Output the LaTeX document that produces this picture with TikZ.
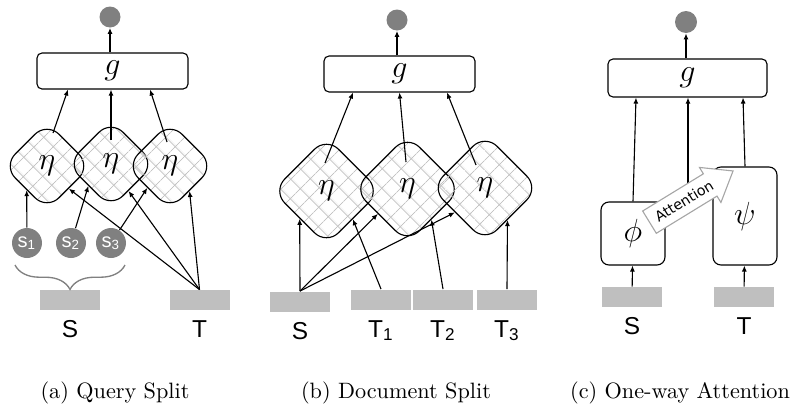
\documentclass[tikz,border=0pt]{standalone}
\usepackage{fontspec}
\setsansfont{Liberation Sans}
\newfontfamily\attfont{DejaVu Sans}
\usepackage{tikz}
\usetikzlibrary{shapes.geometric,shapes.arrows,patterns.meta,arrows.meta,positioning,calc,decorations.pathreplacing}
\newlength{\pxu}\setlength{\pxu}{0.45pt}
\definecolor{dotgray}{HTML}{808080}
\definecolor{bargray}{HTML}{BFBFBF}
\definecolor{hatchgray}{HTML}{C4C4C4}
\definecolor{attgray}{HTML}{A6A6A6}
\begin{document}
\begin{tikzpicture}[x=\pxu,y=-\pxu]
%coordinates are pixels of the picture, y going down
\tikzstyle{arr}=[-{Latex[length=2.7pt,width=2.25pt]}, line width=0.5pt]
\tikzstyle{gbox}=[draw, rounded corners=5\pxu, minimum width=151\pxu, minimum height=36\pxu, font=\Large, line width=0.5pt]
\tikzstyle{dot}=[circle, fill=dotgray, inner sep=0, minimum size=21\pxu]
\tikzstyle{eta}=[diamond, aspect=1, draw, rounded corners=17\pxu, inner sep=0, minimum size=88\pxu, pattern={Hatch[angle=45,distance=6.5pt,line width=0.45pt]}, pattern color=hatchgray, font=\Large, line width=0.5pt]
\tikzstyle{snode}=[circle, fill=dotgray, inner sep=0, minimum size=30\pxu, text=white, font=\sffamily\fontsize{9}{10}\selectfont]
\tikzstyle{bar}=[fill=bargray, inner sep=0, minimum width=60\pxu, minimum height=20\pxu]
\tikzstyle{lab}=[inner sep=0, font=\sffamily\fontsize{11}{13}\selectfont]
\tikzstyle{enc}=[draw, rounded corners=8\pxu, minimum width=64\pxu, font=\Large, line width=0.5pt]
\tikzstyle{att}=[single arrow, draw=attgray, fill=white, rotate=31.5, minimum height=98\pxu, single arrow head extend=7.5\pxu, single arrow tip angle=75, inner ysep=7\pxu, inner xsep=2pt, font=\attfont\fontsize{6.4}{7.5}\selectfont, line width=0.5pt]
\useasboundingbox (0,0) rectangle (796,416);
% (a) query split
\node[dot](O1) at (110,17) {};
\node[gbox](G1) at (112.5,71) {$g$};
\node[eta](A1) at (47,166) {$\eta$};
\node[eta](A2) at (111,164) {$\eta$};
\node[eta](A3) at (170,166) {$\eta$};
\node[snode](s1) at (27,243) {s\textsubscript{1}};
\node[snode](s2) at (71,243) {s\textsubscript{2}};
\node[snode](s3) at (111,243) {s\textsubscript{3}};
\node[bar](Sa) at (70,300) {};
\node[bar](Ta) at (199.5,300) {};
\node[lab](Sla) [below=10\pxu of Sa] {S};
\node[lab](Tla) [below=10\pxu of Ta] {T};
\draw[dotgray, line width=0.6pt, decorate, decoration={brace, amplitude=11pt}] (125,265) -- (15,265);
\draw[arr] (G1.north -| O1) -- (O1);
\draw[arr] ($(A1)+(6,-33)$) -- ($(G1.south)+(-44.5,0)$);
\draw[arr] ($(A2)+(0,-24)$) -- (G1.south -| A2);
\draw[arr] ($(A3)+(-3,-24)$) -- ($(G1.south)+(37.5,0)$);
\draw[arr] (s1) -- (A1.-130);
\draw[arr] (s2) -- (A2.-136);
\draw[arr] (s3) -- (A3.-136);
\draw[arr] (Ta.north) -- (A1.-46);
\draw[arr] (Ta.north) -- (A2.-57);
\draw[arr] (Ta.north) -- (A3.-52);
% (b) document split
\node[dot](O2) at (397,20) {};
\node[gbox](G2) at (399.5,74) {$g$};
\node[eta, minimum size=108\pxu](B1) at (326.5,191) {$\eta$};
\node[eta, minimum size=108\pxu](B2) at (407.5,189) {$\eta$};
\node[eta, minimum size=108\pxu](B3) at (485,188) {$\eta$};
\node[bar](Sb) at (300,301.5) {};
\node[bar](T1) at (381,299.5) {};
\node[bar](T2) at (443,299.5) {};
\node[bar](T3) at (507,299.5) {};
\node[lab](Slb) [below=10\pxu of Sb] {S};
\node[lab](T1l) [below=10\pxu of T1] {T\textsubscript{1}};
\node[lab](T2l) [below=10\pxu of T2] {T\textsubscript{2}};
\node[lab](T3l) [below=10\pxu of T3] {T\textsubscript{3}};
\draw[arr] (G2.north -| O2) -- (O2);
\draw[arr] ($(B1)+(-1.5,-28)$) -- ($(G2.south)+(-46.5,0)$);
\draw[arr] ($(B2)+(-1.5,-27)$) -- (G2.south);
\draw[arr] ($(B3)+(-9,-23)$) -- ($(G2.south)+(47.5,0)$);
\draw[arr] (Sb.north) -- (B1.-134);
\draw[arr] (Sb.north) -- (B2.-140);
\draw[arr] (Sb.north) -- (B3.-141);
\draw[arr] (T1.north) -- (B1.-47);
\draw[arr] (T2.north) -- (B2.-52);
\draw[arr] (T3.north) -- (B3.-55);
% (c) one-way attention
\node[dot, minimum size=22\pxu](O3) at (686,22) {};
\node[gbox, minimum width=159\pxu, minimum height=38\pxu](G3) at (687.5,78) {$g$};
\node[enc, minimum height=63\pxu](Ph) at (633,233.5) {$\phi$};
\node[enc, minimum height=98\pxu](Ps) at (745,216) {$\psi$};
\node[bar](Sc) at (632,297) {};
\node[bar](Tc) at (744,297) {};
\node[lab](Slc) [below=10\pxu of Sc] {S};
\node[lab](Tlc) [below=10\pxu of Tc] {T};
\coordinate (M3) at (688,195);
\draw[arr] (M3) -- (M3 |- G3.south);
\node[att](At) at (684,201) {Attention};
\draw[arr] (G3.north -| O3) -- (O3);
\draw[arr] (Sc) -- (Ph);
\draw[arr] (Tc) -- (Ps);
\draw[arr] (Ph.north) -- ($(G3.south)+(-51.5,0)$);
\draw[arr] (Ps.north) -- ($(G3.south)+(55.5,0)$);
% captions
\node(Ca) at (115,393) {(a) Query Split};
\node(Cb) at (396,393) {(b) Document Split};
\node(Cc) at (680,393) {(c) One-way Attention};
\end{tikzpicture}
\end{document}
